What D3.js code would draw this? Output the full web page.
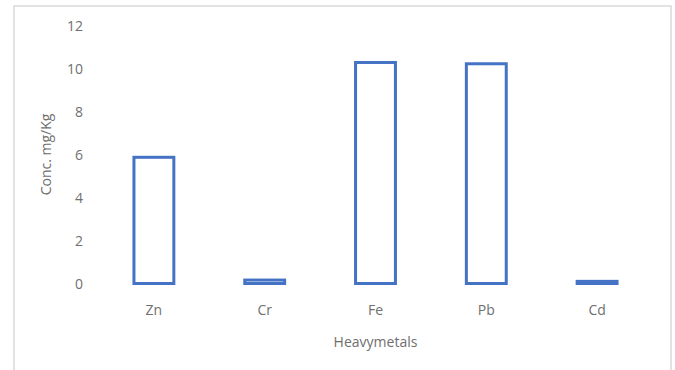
<!DOCTYPE html>
<html>
<head>
<meta charset="utf-8">
<script src="https://cdn.jsdelivr.net/npm/d3@7"></script>
<style>
  html, body { margin: 0; padding: 0; background: #fff; }
  svg { display: block; }
  text { font-family: "Open Sans", sans-serif; fill: #6f6f6f; }
</style>
</head>
<body>
<svg id="chart" width="675" height="370"></svg>
<script>
// Heavy metal concentrations (mg/Kg)
const metals = ["Zn", "Cr", "Fe", "Pb", "Cd"];
const concentrations = [5.87, 0.16, 10.28, 10.22, 0.1];
const yTicks = [0, 2, 4, 6, 8, 10, 12];

const svg = d3.select("#chart");
const W = 675, H = 370;
const plot = { left: 98.5, right: 652.5, top: 25.5, bottom: 283.5 };

// Chart area frame (open at the bottom)
svg.append("path")
  .attr("d", `M14,${H} V6 H671 V${H}`)
  .attr("fill", "none")
  .attr("stroke", "#d9d9d9")
  .attr("stroke-width", 1.5);

const x = d3.scaleBand()
  .domain(metals)
  .range([plot.left, plot.right])
  .paddingInner(0.64)
  .paddingOuter(0.32);

const y = d3.scaleLinear()
  .domain([0, 12])
  .range([plot.bottom, plot.top]);

// Y axis: labels only
const yAxis = d3.axisLeft(y).tickValues(yTicks).tickSize(0).tickPadding(0);
const gy = svg.append("g")
  .attr("transform", "translate(83,0)")
  .call(yAxis);
gy.select(".domain").remove();
gy.selectAll("text")
  .attr("font-size", 14)
  .attr("font-family", "Open Sans, sans-serif")
  .attr("fill", "#6f6f6f")
  .attr("dy", "0.35em");

// X axis: labels only
const xAxis = d3.axisBottom(x).tickSize(0).tickPadding(0);
const gx = svg.append("g")
  .attr("transform", "translate(0,310)")
  .call(xAxis);
gx.select(".domain").remove();
gx.selectAll("text")
  .attr("font-size", 14)
  .attr("font-family", "Open Sans, sans-serif")
  .attr("fill", "#6f6f6f")
  .attr("dy", "0.35em");

// Hollow bars
svg.append("g")
  .selectAll("rect")
  .data(metals.map((m, i) => ({ m, v: concentrations[i] })))
  .join("rect")
  .attr("x", d => x(d.m))
  .attr("width", x.bandwidth())
  .attr("y", d => y(d.v))
  .attr("height", d => y(0) - y(d.v))
  .attr("fill", "#fff")
  .attr("stroke", "#4472c4")
  .attr("stroke-width", 3);

// Axis titles
svg.append("text")
  .attr("x", (plot.left + plot.right) / 2)
  .attr("y", 342)
  .attr("dy", "0.35em")
  .attr("text-anchor", "middle")
  .attr("font-size", 14)
  .text("Heavymetals");

svg.append("text")
  .attr("transform", `translate(46,${(plot.top + plot.bottom) / 2}) rotate(-90)`)
  .attr("dy", "0.35em")
  .attr("text-anchor", "middle")
  .attr("font-size", 14)
  .text("Conc. mg/Kg");
</script>
</body>
</html>
